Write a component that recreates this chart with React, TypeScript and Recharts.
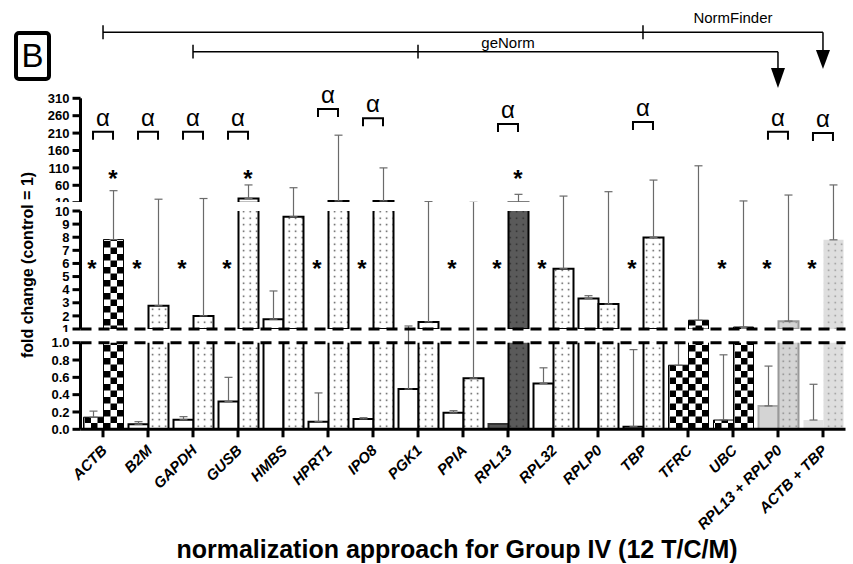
import React from 'react';
import { ComposedChart, Bar, Cell, XAxis, YAxis, ErrorBar, ReferenceLine, ReferenceDot } from 'recharts';

// ---------- data ----------
const categories = ['ACTB', 'B2M', 'GAPDH', 'GUSB', 'HMBS', 'HPRT1', 'IPO8', 'PGK1', 'PPIA', 'RPL13', 'RPL32', 'RPLP0', 'TBP', 'TFRC', 'UBC', 'RPL13 + RPLP0', 'ACTB + TBP'];
const leftValues = [0.14, 0.058, 0.11, 0.32, 1.75, 0.088, 0.12, 0.465, 0.19, 0.06, 0.53, 3.33, 0.03, 0.74, 0.107, 0.27, 0.107];
const leftErrTop = [0.21, 0.088, 0.146, 0.6, 3.9, 0.42, 0.134, 1.23, 0.215, 0.06, 0.71, 3.54, 0.92, 1.0, 0.86, 0.73, 0.52];
const rightValues = [7.82, 2.77, 2.0, 22, 9.56, 15, 15, 1.54, 0.59, 10.5, 5.6, 2.9, 7.98, 1.67, 1.15, 1.6, 7.8];
const rightErrTop = [44.5, 20, 22, 61, 53, 204, 110, 13, 11, 34, 29, 41.6, 75, 116, 15, 32, 61];

const leftStyle = ['checker', 'white', 'white', 'white', 'white', 'white', 'white', 'white', 'white', 'dark', 'white', 'white', 'white', 'checker', 'checker', 'light', 'lighter'];
const rightStyle = ['checker', 'dots', 'dots', 'dots', 'dots', 'dots', 'dots', 'dots', 'dots', 'darkDots', 'dots', 'dots', 'dots', 'checker', 'checker', 'lightDots', 'lighterDots'];

const starLeftCats = ['ACTB', 'B2M', 'GAPDH', 'GUSB', 'HPRT1', 'IPO8', 'PPIA', 'RPL13', 'RPL32', 'TBP', 'UBC', 'RPL13 + RPLP0', 'ACTB + TBP'];
const starLeftLevel = 6.1;
const starTopCats = ['ACTB', 'GUSB', 'RPL13'];
const starTopLevel = 97;
const alphaCats = ['ACTB', 'B2M', 'GAPDH', 'GUSB', 'HPRT1', 'IPO8', 'RPL13', 'TBP', 'RPL13 + RPLP0', 'ACTB + TBP'];
const alphaLevels = [214, 214, 214, 214, 279, 253, 236, 242, 214, 210];

const topTicks = [10, 60, 110, 160, 210, 260, 310];
const midTicks = [1, 2, 3, 4, 5, 6, 7, 8, 9, 10];
const lowTicks = [0, 0.2, 0.4, 0.6, 0.8, 1.0];

// annotation levels (in upper-axis units)
const normFinderLevel = 500;
const normFinderArrowLevel = 449;
const geNormLevel = 444;
const geNormArrowLevel = 397;
const normFinderLabelLevel = 541;
const geNormLabelLevel = 469;

// ---------- styles ----------
const FONT = '"Liberation Sans", Arial, Helvetica, sans-serif';
const W = 853;
const FILLS: Record<string, string> = {
  white: '#ffffff', checker: 'url(#pChecker)', dots: 'url(#pDots)', dark: '#555555',
  darkDots: 'url(#pDarkDots)', light: '#d4d4d4', lightDots: 'url(#pLightDots)',
  lighter: '#e2e2e2', lighterDots: 'url(#pLighterDots)',
};
const STROKES: Record<string, string> = {
  white: '#000', checker: '#000', dots: '#000', dark: '#333', darkDots: '#000',
  light: '#aaa', lightDots: '#999', lighter: 'none', lighterDots: 'none',
};

function buildData(lo: number, hi: number) {
  return categories.map((name, i) => {
    const lv = leftValues[i], lt = leftErrTop[i], rv = rightValues[i], rt = rightErrTop[i];
    return {
      name,
      left: lv,
      right: rv,
      leftErr: lt > lv && lt > lo && lv < hi ? [0, lt - lv] : null,
      rightErr: rt > rv && rt > lo && rv < hi ? [0, rt - rv] : null,
    };
  });
}

const XTick = (props: any) => {
  const { x, y, payload } = props;
  const tx = x + 5;
  const ty = y + 12;
  return (
    <text x={tx} y={ty} transform={`rotate(-45 ${tx} ${ty})`} textAnchor="end" fontStyle="italic"
      fontWeight="bold" fontSize={15} fill="#000" fontFamily={FONT}>{payload.value}</text>
  );
};

const alphaShape = (props: any) => {
  const { cx, cy } = props;
  return (
    <g>
      <path d={`M${cx - 10},${cy + 8} V${cy} H${cx + 10} V${cy + 8}`} stroke="#000" strokeWidth={2} fill="none" />
      <text x={cx} y={cy - 6} textAnchor="middle" fontSize={24} fontFamily={FONT} fill="#000">α</text>
    </g>
  );
};

const starShape = (dx: number) => (props: any) => {
  const { cx, cy } = props;
  return <text x={cx + dx} y={cy + 15} textAnchor="middle" fontSize={24} fontWeight="bold" fontFamily={FONT} fill="#000">*</text>;
};

const arrowShape = (h: number) => (props: any) => {
  const { cx, cy } = props;
  return <path d={`M${cx - 7},${cy} L${cx + 7},${cy} L${cx},${cy + h} Z`} fill="#000" />;
};

const textShape = (label: string) => (props: any) => {
  const { cx, cy } = props;
  return <text x={cx} y={cy + 5} textAnchor="middle" fontSize={15} fontFamily={FONT} fill="#000">{label}</text>;
};

type SegProps = {
  lo: number; hi: number; top: number; height: number; clipHeight: number; mTop: number; mBottom: number;
  ticks: number[]; fmt?: (v: number) => string; showX?: boolean; xHeight?: number; extra?: React.ReactNode[];
};

const Segment = ({ lo, hi, top, height, clipHeight, mTop, mBottom, ticks, fmt, showX, xHeight, extra }: SegProps) => {
  const data = buildData(lo, hi);
  return (
    <div style={{ position: 'absolute', left: 0, top, width: W, height: clipHeight, overflow: 'hidden' }}>
      <ComposedChart width={W} height={height} data={data} barGap={0} barSize={20}
        margin={{ top: mTop, right: 7.5, bottom: mBottom, left: 30.5 }}>
        <XAxis dataKey="name" type="category" interval={0} hide={!showX} height={showX ? xHeight : 0}
          tick={(p: any) => <XTick {...p} />} tickSize={8}
          axisLine={{ stroke: '#000', strokeWidth: 3 }} tickLine={{ stroke: '#000', strokeWidth: 3 }} />
        <YAxis type="number" domain={[lo, hi]} ticks={ticks} allowDataOverflow width={50} interval={0}
          tickSize={8} tickMargin={3} tickFormatter={fmt}
          axisLine={{ stroke: '#000', strokeWidth: 3 }} tickLine={{ stroke: '#000', strokeWidth: 3 }}
          tick={{ fill: '#000', fontSize: 13, fontWeight: 'bold', fontFamily: FONT }} />
        <Bar dataKey="left" isAnimationActive={false}>
          {data.map((d, i) => {
            const vis = d.left > lo;
            return (
              <Cell key={i} fill={vis ? FILLS[leftStyle[i]] : 'none'} stroke={vis ? STROKES[leftStyle[i]] : 'none'}
                strokeWidth={leftStyle[i] === 'checker' ? 1 : 2} />
            );
          })}
          <ErrorBar dataKey="leftErr" direction="y" width={4} stroke="#6a6a6a" strokeWidth={1.2} isAnimationActive={false} />
        </Bar>
        <Bar dataKey="right" isAnimationActive={false}>
          {data.map((d, i) => {
            const vis = d.right > lo;
            return (
              <Cell key={i} fill={vis ? FILLS[rightStyle[i]] : 'none'} stroke={vis ? STROKES[rightStyle[i]] : 'none'}
                strokeWidth={rightStyle[i] === 'checker' ? 1 : 2} />
            );
          })}
          <ErrorBar dataKey="rightErr" direction="y" width={4} stroke="#6a6a6a" strokeWidth={1.2} isAnimationActive={false} />
        </Bar>
        {extra}
      </ComposedChart>
    </div>
  );
};

const Patterns = () => (
  <svg width={0} height={0} style={{ position: 'absolute' }}>
    <defs>
      <pattern id="pChecker" width={13} height={13} patternUnits="userSpaceOnUse">
        <rect width={13} height={13} fill="#fff" />
        <rect x={0} y={0} width={6.5} height={6.5} fill="#000" />
        <rect x={6.5} y={6.5} width={6.5} height={6.5} fill="#000" />
      </pattern>
      <pattern id="pDots" width={6.5} height={6.5} patternUnits="userSpaceOnUse">
        <rect width={6.5} height={6.5} fill="#fff" />
        <rect x={2.5} y={2.5} width={1.4} height={1.4} fill="#333" />
      </pattern>
      <pattern id="pDarkDots" width={6.5} height={6.5} patternUnits="userSpaceOnUse">
        <rect width={6.5} height={6.5} fill="#5a5a5a" />
        <rect x={2.5} y={2.5} width={1.4} height={1.4} fill="#222" />
      </pattern>
      <pattern id="pLightDots" width={6.5} height={6.5} patternUnits="userSpaceOnUse">
        <rect width={6.5} height={6.5} fill="#d4d4d4" />
        <rect x={2.5} y={2.5} width={1.4} height={1.4} fill="#777" />
      </pattern>
      <pattern id="pLighterDots" width={6.5} height={6.5} patternUnits="userSpaceOnUse">
        <rect width={6.5} height={6.5} fill="#dedede" />
        <rect x={2.5} y={2.5} width={1.4} height={1.4} fill="#888" />
      </pattern>
    </defs>
  </svg>
);

const dashed = { stroke: '#000', strokeWidth: 3, strokeDasharray: '11 7' };

export default function App() {
  const topExtra: React.ReactNode[] = [
    ...alphaCats.map((c, i) => (
      <ReferenceDot key={`a${i}`} x={c} y={alphaLevels[i]} ifOverflow="visible" shape={alphaShape} />
    )),
    ...starTopCats.map((c, i) => (
      <ReferenceDot key={`st${i}`} x={c} y={starTopLevel} ifOverflow="visible" shape={starShape(10)} />
    )),
    <ReferenceLine key="nf" ifOverflow="visible" stroke="#000" strokeWidth={1.5}
      segment={[{ x: 'ACTB', y: normFinderLevel }, { x: 'ACTB + TBP', y: normFinderLevel }]} />,
    <ReferenceLine key="nf1" ifOverflow="visible" stroke="#000" strokeWidth={1.5}
      segment={[{ x: 'ACTB', y: normFinderLevel - 20 }, { x: 'ACTB', y: normFinderLevel + 20 }]} />,
    <ReferenceLine key="nf2" ifOverflow="visible" stroke="#000" strokeWidth={1.5}
      segment={[{ x: 'TBP', y: normFinderLevel - 20 }, { x: 'TBP', y: normFinderLevel + 20 }]} />,
    <ReferenceLine key="nf3" ifOverflow="visible" stroke="#000" strokeWidth={1.5}
      segment={[{ x: 'ACTB + TBP', y: normFinderLevel }, { x: 'ACTB + TBP', y: normFinderArrowLevel }]} />,
    <ReferenceDot key="nfa" x="ACTB + TBP" y={normFinderArrowLevel} ifOverflow="visible" shape={arrowShape(19)} />,
    <ReferenceDot key="nft" x="UBC" y={normFinderLabelLevel} ifOverflow="visible" shape={textShape('NormFinder')} />,
    <ReferenceLine key="gn" ifOverflow="visible" stroke="#000" strokeWidth={1.5}
      segment={[{ x: 'GAPDH', y: geNormLevel }, { x: 'RPL13 + RPLP0', y: geNormLevel }]} />,
    <ReferenceLine key="gn1" ifOverflow="visible" stroke="#000" strokeWidth={1.5}
      segment={[{ x: 'GAPDH', y: geNormLevel - 20 }, { x: 'GAPDH', y: geNormLevel + 20 }]} />,
    <ReferenceLine key="gn2" ifOverflow="visible" stroke="#000" strokeWidth={1.5}
      segment={[{ x: 'PGK1', y: geNormLevel - 20 }, { x: 'PGK1', y: geNormLevel + 20 }]} />,
    <ReferenceLine key="gn3" ifOverflow="visible" stroke="#000" strokeWidth={1.5}
      segment={[{ x: 'RPL13 + RPLP0', y: geNormLevel }, { x: 'RPL13 + RPLP0', y: geNormArrowLevel }]} />,
    <ReferenceDot key="gna" x="RPL13 + RPLP0" y={geNormArrowLevel} ifOverflow="visible" shape={arrowShape(20)} />,
    <ReferenceDot key="gnt" x="RPL13" y={geNormLabelLevel} ifOverflow="visible" shape={textShape('geNorm')} />,
  ];
  const midExtra: React.ReactNode[] = [
    <ReferenceLine key="d1" y={1} ifOverflow="visible" {...dashed} />,
    ...starLeftCats.map((c, i) => (
      <ReferenceDot key={`sl${i}`} x={c} y={starLeftLevel} ifOverflow="visible" shape={starShape(-11)} />
    )),
  ];
  const lowExtra: React.ReactNode[] = [
    <ReferenceLine key="d2" y={1} ifOverflow="visible" {...dashed} />,
  ];

  return (
    <div style={{ position: 'absolute', left: 0, top: 0, width: W, height: 564, background: '#fff', fontFamily: FONT }}>
      <Patterns />
      <Segment lo={10} hi={310} top={0} height={202.7} clipHeight={202} mTop={98.3} mBottom={0} ticks={topTicks} extra={topExtra} />
      <Segment lo={1} hi={10} top={202} height={135} clipHeight={130} mTop={9} mBottom={8} ticks={midTicks} extra={midExtra} />
      <Segment lo={0} hi={1} top={332} height={232} clipHeight={232} mTop={10.7} mBottom={0} ticks={lowTicks}
        fmt={(v: number) => v.toFixed(1)} showX xHeight={134.7} extra={lowExtra} />
      <div style={{ position: 'absolute', left: 14, top: 31, width: 37, height: 50, boxSizing: 'border-box',
        border: '4px solid #000', borderRadius: 5, fontSize: 33, lineHeight: '42px', textAlign: 'center', color: '#000' }}>B</div>
      <div style={{ position: 'absolute', left: 28, top: 265, transform: 'translate(-50%, -50%) rotate(-90deg)',
        whiteSpace: 'nowrap', fontWeight: 'bold', fontSize: 16, color: '#000' }}>fold change (control = 1)</div>
      <div style={{ position: 'absolute', left: 457, top: 549, transform: 'translate(-50%, -50%)',
        whiteSpace: 'nowrap', fontWeight: 'bold', fontSize: 25, color: '#000' }}>normalization approach for Group IV (12 T/C/M)</div>
    </div>
  );
}
